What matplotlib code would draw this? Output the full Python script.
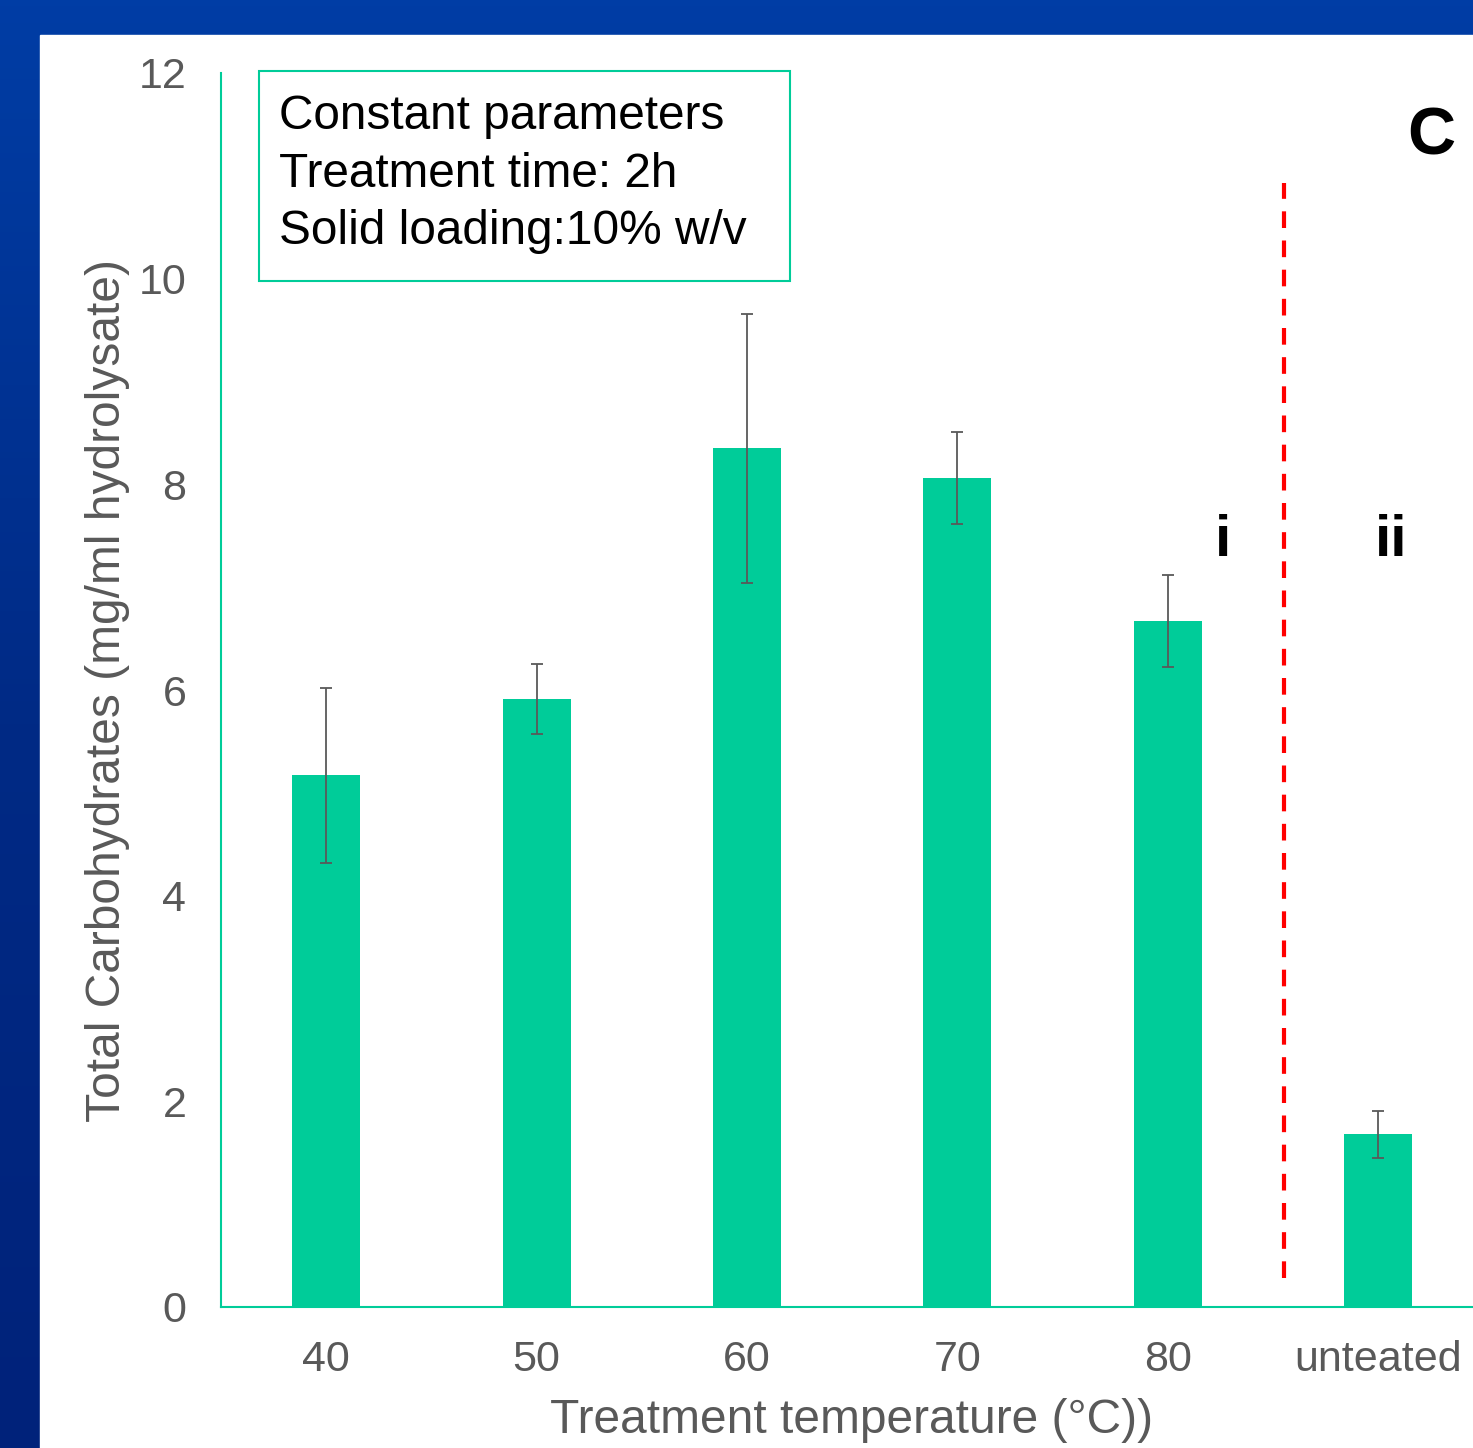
import numpy as np
import matplotlib.pyplot as plt
from matplotlib.patches import Rectangle
from matplotlib.colors import LinearSegmentedColormap

plt.rcParams['font.family'] = ['Liberation Sans', 'DejaVu Sans']

# datos
categorias = ['40', '50', '60', '70', '80', 'unteated']
carbohidratos = [5.17, 5.91, 8.35, 8.06, 6.67, 1.68]
errores = [0.85, 0.34, 1.31, 0.45, 0.45, 0.23]

VERDE = '#00CC99'
GRIS = '#595959'

fig = plt.figure(figsize=(14.73, 14.48), dpi=100)

# fondo azul con degradado y panel blanco
ax_bg = fig.add_axes([0, 0, 1, 1], zorder=-10)
grad = np.linspace(0, 1, 256).reshape(-1, 1)
cmap_bg = LinearSegmentedColormap.from_list('fondo', ['#003DA5', '#002A85', '#00227A'])
ax_bg.imshow(grad, aspect='auto', cmap=cmap_bg, extent=[0, 1, 0, 1], origin='upper')
ax_bg.add_patch(Rectangle((40 / 1473, 0), 1, 1 - 35 / 1448, color='white', zorder=2))
ax_bg.set_xlim(0, 1)
ax_bg.set_ylim(0, 1)
ax_bg.axis('off')

ax = fig.add_axes([221 / 1473, 1 - 1307 / 1448, 1 - 221 / 1473, (1307 - 73) / 1448])
ax.patch.set_alpha(0)
x = np.arange(len(categorias))
ax.bar(x, carbohidratos, width=0.323, color=VERDE, zorder=2)
ax.errorbar(x, carbohidratos, yerr=errores, fmt='none', ecolor=GRIS,
            elinewidth=1.3, capsize=4.5, capthick=1.3, zorder=3)

ax.set_xlim(-0.5, 5.45)
ax.set_ylim(0, 12)
ax.set_xticks(x)
ax.set_xticklabels(categorias)
ax.set_yticks(range(0, 13, 2))
ax.tick_params(axis='both', length=0, labelsize=31, labelcolor=GRIS)
ax.tick_params(axis='x', pad=24)
ax.tick_params(axis='y', pad=25)
for lado in ['top', 'right']:
    ax.spines[lado].set_visible(False)
for lado in ['left', 'bottom']:
    ax.spines[lado].set_color(VERDE)
    ax.spines[lado].set_linewidth(1.5)

ax.set_ylabel('Total Carbohydrates (mg/ml hydrolysate)', fontsize=34.5, color=GRIS, labelpad=6)
ax.set_xlabel('Treatment temperature (°C))', fontsize=34.5, color=GRIS)
ax.xaxis.set_label_coords((852 - 221) / (1473 - 221), -0.074)

# separador entre tratado / sin tratar
ax.plot([4.55, 4.55], [0.28, 10.93], color='red', linestyle=(0, (4, 3)), linewidth=3, zorder=1)

ax.text(4.26, 7.45, 'i', fontsize=42, fontweight='bold', ha='center', va='center')
ax.text(5.06, 7.45, 'ii', fontsize=42, fontweight='bold', ha='center', va='center')
ax.text(5.25, 11.37, 'C', fontsize=48, fontweight='bold', ha='center', va='center')

# recuadro de parámetros constantes
ax.add_patch(Rectangle((-0.318, 9.98), 2.523, 2.04, facecolor='white', edgecolor=VERDE,
                       linewidth=1.5, zorder=4, clip_on=False))
ax.text(-0.223, 11.80, 'Constant parameters\nTreatment time: 2h\nSolid loading:10% w/v',
        fontsize=34.4, va='top', ha='left', linespacing=1.37, zorder=5)

fig.savefig('out.png', dpi=100)
